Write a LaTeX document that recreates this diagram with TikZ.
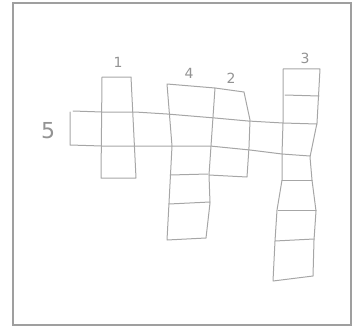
\documentclass[tikz,border=0pt]{standalone}
\usepackage{fontspec}
\setsansfont{DejaVu Sans}
\tikzset{
  sketch/.style={draw=gray!70,line width=1pt,line join=round,line cap=round},
  frame/.style={draw=gray!75,line width=1.4pt},
  numlbl/.style={text=gray!85,font=\sffamily\fontsize{14}{14}\selectfont,inner sep=0pt},
}
\begin{document}
\begin{tikzpicture}[x=1pt,y=-1pt]
  \useasboundingbox (0,0) rectangle (352,326);
  \draw[frame] (13,3) rectangle (351,325);
  % word 1
  \draw[sketch] (102,77) -- (131,77) -- (136,178) -- (101,178) -- cycle;
  % word 5 (across)
  \draw[sketch] (73,111) -- (102,112) -- (135,112) -- (167,114) -- (215,118) -- (248,121) -- (283,123) -- (317,124);
  \draw[sketch] (70,112) -- (70,145) -- (102,146) -- (140,146) -- (172,146) -- (210,146) -- (250,150) -- (282,154) -- (310,156);
  % word 4
  \draw[sketch] (167,84) -- (215,88) -- (211,146) -- (209,175) -- (210,203) -- (206,238) -- (167,240) -- (169,203) -- (172,146) -- cycle;
  \draw[sketch] (170,175) -- (208,174);
  \draw[sketch] (169,204) -- (210,202);
  % word 2
  \draw[sketch] (215,88) -- (244,92) -- (250,120) -- (249,147) -- (247,177) -- (209,175);
  % word 3
  \draw[sketch] (283,69) -- (320,69) -- (317,123) -- (310,157) -- (312,180) -- (316,211) -- (314,240) -- (313,276) -- (273,281)
    -- (275,241) -- (277,210) -- (282,180) -- (282,154) -- (283,123) -- cycle;
  \draw[sketch] (285,95) -- (319,96);
  \draw[sketch] (282,180) -- (312,180);
  \draw[sketch] (278,210) -- (316,210);
  \draw[sketch] (275,241) -- (314,239);
  % numbers
  \node[numlbl] (n1) at (118,62) {1};
  \node[numlbl] (n4) at (189,73) {4};
  \node[numlbl] (n2) at (231,78) {2};
  \node[numlbl] (n3) at (305,58) {3};
  \node[numlbl,font=\sffamily\fontsize{22}{22}\selectfont] (n5) at (48,131) {5};
\end{tikzpicture}
\end{document}
